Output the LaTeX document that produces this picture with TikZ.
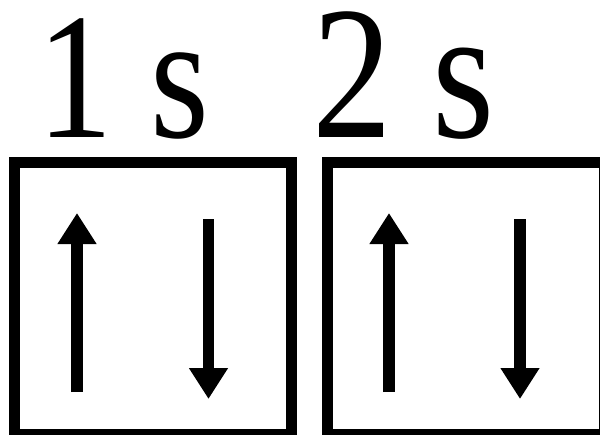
\documentclass[tikz,border=0pt]{standalone}
\usepackage{fontspec}
\setmainfont{Liberation Serif}
\newfontfamily\orbfont{Liberation Serif}
\usetikzlibrary{arrows.meta}
\begin{document}
\begin{tikzpicture}[
  x=0.5pt,y=-0.5pt,
  orb/.style={draw,line width=5.5pt,minimum height=135.75pt,inner sep=0pt},
  lbl/.style={anchor=base west,inner sep=0pt,xscale=0.84},
  spin/.style={-{Triangle[length=15.5pt,width=18.5pt]},line width=5.8pt},
]
\useasboundingbox (0,0) rectangle (600,434);
\node[orb,minimum width=138.25pt] (box1) at (152.75,298.25) {};
\node[orb,minimum width=138.5pt] (box2) at (465.5,298.25) {};
\node[lbl,font=\orbfont\fontsize{90}{96}\selectfont] (lab1) at (37,137) {1 s};
\node[lbl,font=\orbfont\fontsize{95}{100}\selectfont] (lab2) at (312,137) {2 s};
% electron pair in each orbital
\foreach \n/\u/\d in {1/77/208.5, 2/389/520}{
  \coordinate (up\n-tail) at (\u,392);
  \coordinate (up\n-tip) at (\u,213);
  \coordinate (dn\n-tail) at (\d,219);
  \coordinate (dn\n-tip) at (\d,399);
  \draw[spin] (up\n-tail) -- (up\n-tip);
  \draw[spin] (dn\n-tail) -- (dn\n-tip);
}
\end{tikzpicture}
\end{document}
